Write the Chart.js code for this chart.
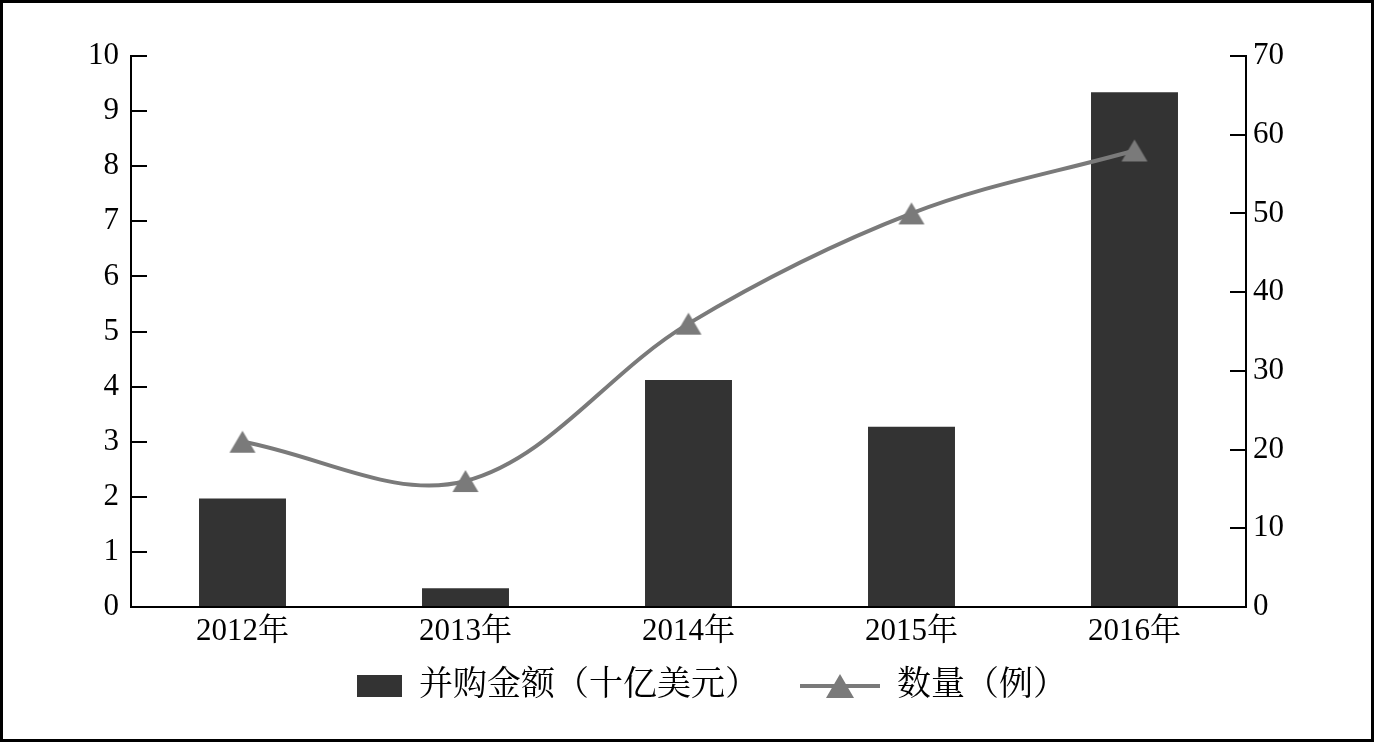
<!DOCTYPE html>
<html><head><meta charset="utf-8">
<script src="https://cdn.jsdelivr.net/npm/chart.js@4"></script>
<style>
html,body{margin:0;padding:0;background:#fff;}
#frame{width:1374px;height:742px;box-sizing:border-box;border:3px solid #000;background:#fff;}
canvas{display:block;}
</style></head><body>
<div id="frame"><canvas id="c" width="1368" height="736"></canvas></div>
<script>
// ---- data ----
const categories = ['2012年', '2013年', '2014年', '2015年', '2016年'];
const amountLabel = '并购金额（十亿美元）';
const countLabel = '数量（例）';
const amountValues = [1.97, 0.34, 4.12, 3.27, 9.34];
const countValues = [21, 16, 36, 50, 58];
const leftTickValues = [0, 1, 2, 3, 4, 5, 6, 7, 8, 9, 10];
const rightTickValues = [0, 10, 20, 30, 40, 50, 60, 70];

// ---- styles ----
const FONT = '"Liberation Serif", "Times New Roman", "Noto Serif CJK SC", "Noto Sans CJK SC", serif';
const BAR_COLOR = '#333333';
const LINE_COLOR = '#7a7a7a';
Chart.defaults.font.family = FONT;
Chart.defaults.color = '#000';

function makeCanvas(w, h, draw) {
  const c = document.createElement('canvas');
  c.width = w; c.height = h;
  draw(c.getContext('2d'));
  return c;
}
function triangle(ctx, cx, top, w, h) {
  ctx.fillStyle = LINE_COLOR;
  ctx.beginPath();
  ctx.moveTo(cx, top);
  ctx.lineTo(cx + w / 2, top + h);
  ctx.lineTo(cx - w / 2, top + h);
  ctx.closePath();
  ctx.fill();
}
// data-point marker: triangle centred on its bounding box
const pointIcon = makeCanvas(30, 26, ctx => triangle(ctx, 15, 2, 26, 22));

const ICON_W = 111, ICON_H = 32;
const barIcon = makeCanvas(ICON_W, ICON_H, ctx => {
  ctx.fillStyle = BAR_COLOR;
  ctx.fillRect(ICON_W - 45, 5, 45, 22);
});
const lineIcon = makeCanvas(ICON_W, ICON_H, ctx => {
  ctx.strokeStyle = LINE_COLOR;
  ctx.lineWidth = 4;
  ctx.beginPath();
  ctx.moveTo(ICON_W - 80, 16);
  ctx.lineTo(ICON_W, 16);
  ctx.stroke();
  triangle(ctx, ICON_W - 40, 4, 28, 24);
});

const legendShift = {
  id: 'legendShift',
  afterLayout(chart) {
    if (chart.legend) { chart.legend.left -= 8; chart.legend.right -= 8; }
  }
};

new Chart(document.getElementById('c'), {
  data: {
    labels: categories,
    datasets: [
      {
        type: 'bar',
        label: amountLabel,
        data: amountValues,
        backgroundColor: BAR_COLOR,
        borderWidth: 0,
        barPercentage: 0.39,
        categoryPercentage: 1.0,
        yAxisID: 'y',
        order: 1
      },
      {
        type: 'line',
        label: countLabel,
        data: countValues,
        borderColor: LINE_COLOR,
        borderWidth: 4,
        tension: 0.35,
        pointStyle: pointIcon,
        pointRadius: 13,
        pointBackgroundColor: LINE_COLOR,
        pointBorderWidth: 0,
        yAxisID: 'y1',
        order: 0
      }
    ]
  },
  plugins: [legendShift],
  options: {
    responsive: false,
    animation: false,
    layout: { padding: { left: 0, right: 0, top: 53, bottom: 26 } },
    scales: {
      x: {
        grid: { display: false, drawTicks: false },
        border: { display: true, color: '#000', width: 2 },
        ticks: { padding: 6, color: '#000', font: { size: 31 } },
        afterFit: s => { s.height = 52; }
      },
      y: {
        position: 'left',
        min: leftTickValues[0],
        max: leftTickValues[leftTickValues.length - 1],
        ticks: { stepSize: leftTickValues[1] - leftTickValues[0], padding: 28, color: '#000', font: { size: 31 } },
        grid: { drawOnChartArea: false, drawTicks: true, tickLength: -16, color: '#000', lineWidth: 2 },
        border: { display: true, color: '#000', width: 2 },
        afterFit: s => { s.width = 128; }
      },
      y1: {
        position: 'right',
        min: rightTickValues[0],
        max: rightTickValues[rightTickValues.length - 1],
        ticks: { stepSize: rightTickValues[1] - rightTickValues[0], padding: 23, color: '#000', font: { size: 31 } },
        grid: { drawOnChartArea: false, drawTicks: true, tickLength: -16, color: '#000', lineWidth: 2 },
        border: { display: true, color: '#000', width: 2 },
        afterFit: s => { s.width = 125; }
      }
    },
    plugins: {
      tooltip: { enabled: false },
      legend: {
        position: 'bottom',
        labels: {
          usePointStyle: true,
          pointStyleWidth: ICON_W,
          padding: 10,
          color: '#000',
          font: { size: 34 },
          generateLabels(chart) {
            const items = Chart.defaults.plugins.legend.labels.generateLabels(chart);
            items.sort((a, b) => a.datasetIndex - b.datasetIndex);
            items.forEach(it => {
              it.pointStyle = it.datasetIndex === 0 ? barIcon : lineIcon;
              it.lineWidth = 0;
              it.strokeStyle = 'rgba(0,0,0,0)';
            });
            return items;
          }
        }
      }
    }
  }
});
</script>
</body></html>
